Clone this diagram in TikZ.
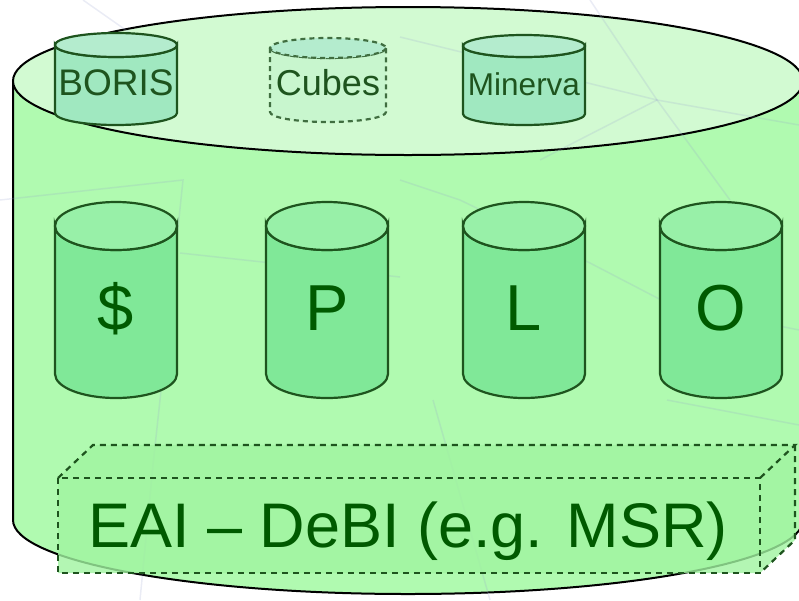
\documentclass[tikz,border=0pt]{standalone}
\usepackage{fontspec}
\setmainfont{Liberation Sans}
\definecolor{outerbody}{RGB}{176,250,176}
\definecolor{outertop}{RGB}{210,250,210}
\definecolor{smallbody}{RGB}{160,232,192}
\definecolor{smalltop}{RGB}{180,236,206}
\definecolor{bigbody}{RGB}{128,232,152}
\definecolor{bigtop}{RGB}{152,240,168}
\definecolor{edgegreen}{RGB}{30,84,30}
\definecolor{labelgreen}{RGB}{0,90,0}
\definecolor{boxfill}{RGB}{160,244,160}
\definecolor{netline}{RGB}{150,160,205}
% #1 style, #2 centre x, #3 top y, #4 bottom y, #5 x radius, #6 y radius
\newcommand{\drum}[6]{%
  \draw[#1] (#2-#5,#3) -- (#2-#5,#4)
    arc[start angle=180,end angle=0,x radius=#5,y radius=#6]
    -- (#2+#5,#3)
    arc[start angle=0,end angle=180,x radius=#5,y radius=#6] -- cycle;
  \draw[#1,fill=\drumtop] (#2,#3) ellipse [x radius=#5,y radius=#6];}
\newcommand{\drumtop}{smalltop}
\begin{document}
\begin{tikzpicture}[x=1pt,y=-1pt]
\tikzset{
  net/.style={netline,line width=1.5pt,opacity=0.2},
  smalldb/.style={draw=edgegreen,line width=2.2pt,fill=smallbody},
  bigdb/.style={draw=edgegreen,line width=2.2pt,fill=bigbody},
  smalltext/.style={text=edgegreen,anchor=base,inner sep=0pt},
  bigtext/.style={text=labelgreen,anchor=base,inner sep=0pt,font=\fontsize{65}{70}\selectfont},
  boxline/.style={draw=edgegreen,line width=2.2pt,dash pattern=on 6pt off 5pt}
}
\useasboundingbox (0,0) rectangle (799,600);
\clip (0,0) rectangle (799,600);
% outer store
\draw[line width=2pt,fill=outerbody] (13,81) -- (13,520)
  arc[start angle=180,end angle=0,x radius=395,y radius=74] -- (803,81) -- cycle;
\draw[line width=2pt,fill=outertop] (408,81) ellipse [x radius=395,y radius=74];
% faint net behind
\draw[net] (83,0) -- (140,40);
\draw[net] (400,37) -- (657,100) -- (799,125);
\draw[net] (590,0) -- (657,100) -- (730,200);
\draw[net] (657,100) -- (540,160);
\draw[net] (0,200) -- (183,180) -- (160,400) -- (153,465) -- (140,600);
\draw[net] (180,253) -- (400,277);
\draw[net] (590,263) -- (667,303) -- (799,330);
\draw[net] (433,400) -- (490,600);
\draw[net] (667,400) -- (799,425);
\draw[net] (400,180) -- (460,200) -- (590,263);
% sources on the lid
\drum{smalldb}{116}{45}{113}{61}{12}
\drum{smalldb,draw=edgegreen!85,fill=outertop!80!smallbody,dash pattern=on 5pt off 4pt}{328}{48}{112}{58}{10}
\drum{smalldb}{524}{46}{114}{61}{11}
\node[smalltext,font=\fontsize{37}{40}\selectfont] (boris) at (116,95) {BORIS};
\node[smalltext,font=\fontsize{36}{40}\selectfont] (cubes) at (328,95) {Cubes};
\node[smalltext,font=\fontsize{31.5}{36}\selectfont] (minerva) at (524,95) {Minerva};
% subject stores
\renewcommand{\drumtop}{bigtop}
\drum{bigdb}{116}{226}{374}{61}{24}
\drum{bigdb}{327}{226}{374}{61}{24}
\drum{bigdb}{524}{226}{374}{61}{24}
\drum{bigdb}{721}{226}{374}{61}{24}
\node[bigtext] (money) at (116,330) {\$};
\node[bigtext] (p) at (327,330) {P};
\node[bigtext] (l) at (524,330) {L};
\node[bigtext] (o) at (721,330) {O};
% integration layer
\fill[boxfill,opacity=0.8] (58,478) -- (93,445) -- (795,445) -- (795,540) -- (760,573) -- (58,573) -- cycle;
\draw[boxline] (58,478) rectangle (760,573);
\draw[boxline] (58,478) -- (93,445) -- (795,445) -- (760,478);
\draw[boxline] (795,445) -- (795,540) -- (760,573);
\node[text=labelgreen,anchor=base,inner sep=0pt,font=\fontsize{63}{70}\selectfont] (eai) at (408,547) {EAI -- DeBI (e.g. MSR)};
\end{tikzpicture}
\end{document}
